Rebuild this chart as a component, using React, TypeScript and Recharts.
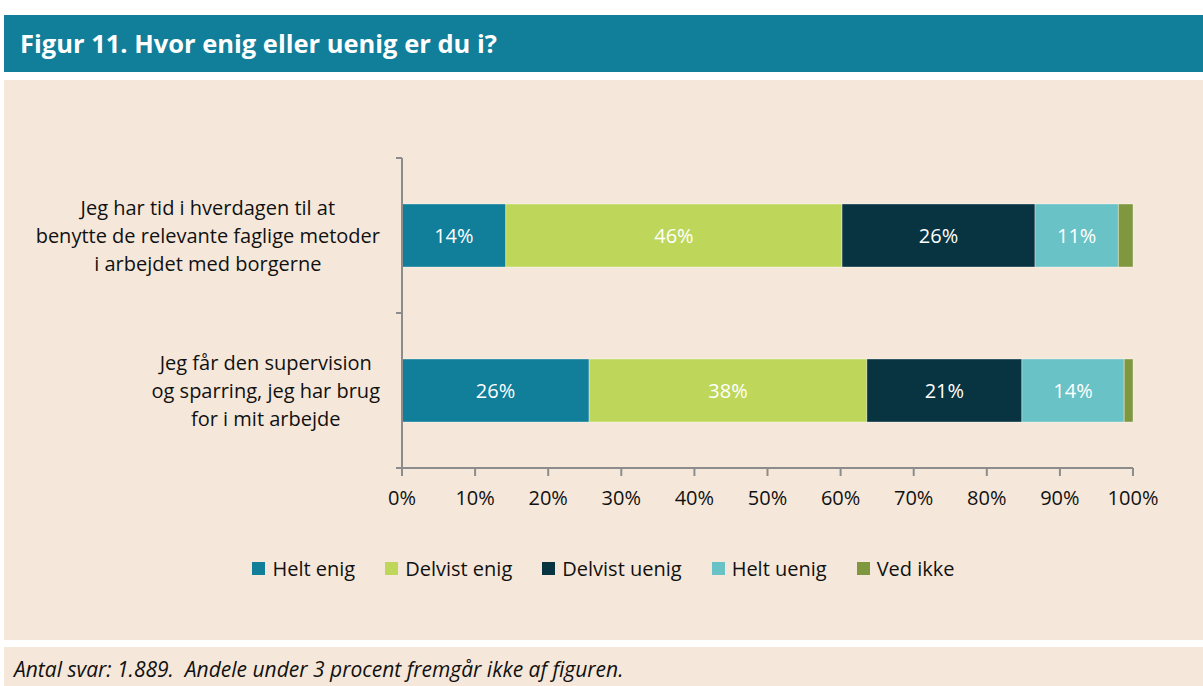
import { BarChart, Bar, XAxis, YAxis, LabelList } from "recharts";

const categories = [
  "Jeg har tid i hverdagen til at\nbenytte de relevante faglige metoder\ni arbejdet med borgerne",
  "Jeg får den supervision\nog sparring, jeg har brug\nfor i mit arbejde",
];

const heltEnig = [14.2, 25.6];
const delvistEnig = [46.0, 38.0];
const delvistUenig = [26.4, 21.2];
const heltUenig = [11.4, 14.0];
const vedIkke = [2.0, 1.2];

const xTicks = [0, 10, 20, 30, 40, 50, 60, 70, 80, 90, 100];

const series = [
  { key: "heltEnig", name: "Helt enig", color: "#117E9A", values: heltEnig },
  { key: "delvistEnig", name: "Delvist enig", color: "#BED75A", values: delvistEnig },
  { key: "delvistUenig", name: "Delvist uenig", color: "#083442", values: delvistUenig },
  { key: "heltUenig", name: "Helt uenig", color: "#69C2C6", values: heltUenig },
  { key: "vedIkke", name: "Ved ikke", color: "#7F983F", values: vedIkke },
];

const data = categories.map((c, i) => {
  const row: Record<string, any> = { name: c };
  series.forEach((s) => (row[s.key] = s.values[i]));
  return row;
});

const FONT = '"Open Sans", sans-serif';
const FS = 20;
const AXIS = "#8C8C8C";
const BG = "#F5E8DA";

const W = 1203;
const H = 600;
const PLOT_TOP = 158;
const PLOT_BOTTOM = 468;
const PLOT_LEFT = 402;
const PLOT_RIGHT = 1133;
const BAND = (PLOT_BOTTOM - PLOT_TOP) / categories.length;

let ctx: CanvasRenderingContext2D | null = null;
function measure(t: string) {
  if (!ctx) ctx = document.createElement("canvas").getContext("2d");
  if (!ctx) return t.length * FS * 0.5;
  ctx.font = `${FS}px "Open Sans"`;
  return ctx.measureText(t).width;
}

// category labels: centred block whose right edge sits 22px left of the axis
function CategoryTick(props: any) {
  const { y, payload, index } = props;
  const lines: string[] = String(payload.value).split("\n");
  const maxW = Math.max(...lines.map(measure));
  const cx = PLOT_LEFT - 22 - maxW / 2;
  const lh = 28;
  const y0 = y - ((lines.length - 1) * lh) / 2;
  return (
    <g>
      <line x1={PLOT_LEFT - 6} x2={PLOT_LEFT} y1={y - BAND / 2} y2={y - BAND / 2} stroke={AXIS} strokeWidth={2} />
      {index === categories.length - 1 && (
        <line x1={PLOT_LEFT - 6} x2={PLOT_LEFT} y1={y + BAND / 2} y2={y + BAND / 2} stroke={AXIS} strokeWidth={2} />
      )}
      <text textAnchor="middle" fontFamily={FONT} fontSize={FS} fill="#111">
        {lines.map((l, i) => (
          <tspan key={i} x={cx} y={y0 + i * lh} dy="0.35em">
            {l}
          </tspan>
        ))}
      </text>
    </g>
  );
}

const pct = (v: any) => (Number(v) >= 3 ? `${Math.round(Number(v))}%` : "");

export default function App() {
  return (
    <div style={{ position: "absolute", left: 0, top: 0, width: W, height: 686, background: "#fff", fontFamily: FONT }}>
      <div
        style={{
          position: "absolute",
          left: 4,
          top: 15,
          width: W - 4,
          height: 57,
          background: "#117E9A",
          color: "#fff",
          fontWeight: 700,
          fontSize: 25.5,
          lineHeight: "56px",
          paddingLeft: 16,
          boxSizing: "border-box",
        }}
      >
        Figur 11. Hvor enig eller uenig er du i?
      </div>
      <div style={{ position: "absolute", left: 4, top: 80, width: W - 4, height: 560, background: BG }} />
      <div
        style={{
          position: "absolute",
          left: 4,
          top: 647,
          width: W - 4,
          height: 39,
          background: BG,
          fontStyle: "italic",
          fontSize: 21,
          color: "#111",
          paddingLeft: 10,
          lineHeight: "44px",
          boxSizing: "border-box",
        }}
      >
        Antal svar: 1.889.&nbsp; Andele under 3 procent fremgår ikke af figuren.
      </div>
      <div style={{ position: "absolute", left: 0, top: 0 }}>
        <BarChart
          width={W}
          height={H}
          data={data}
          layout="vertical"
          margin={{ top: PLOT_TOP, right: W - PLOT_RIGHT, bottom: H - PLOT_BOTTOM - 40, left: 0 }}
        >
          <XAxis
            type="number"
            domain={[0, 100]}
            ticks={xTicks}
            tickFormatter={(v) => `${v}%`}
            height={40}
            axisLine={{ stroke: AXIS, strokeWidth: 2 }}
            tickLine={{ stroke: AXIS, strokeWidth: 2 }}
            tickSize={8}
            tickMargin={15}
            tick={{ fontFamily: FONT, fontSize: FS, fill: "#111" }}
          />
          <YAxis
            type="category"
            dataKey="name"
            width={PLOT_LEFT}
            axisLine={{ stroke: AXIS, strokeWidth: 2 }}
            tickLine={false}
            tick={<CategoryTick />}
            interval={0}
          />
          {series.map((s) => (
            <Bar
              key={s.key}
              dataKey={s.key}
              name={s.name}
              stackId="a"
              fill={s.color}
              barSize={63}
              stroke="rgba(255,255,255,0.35)"
              strokeWidth={1}
              isAnimationActive={false}
            >
              <LabelList
                dataKey={s.key}
                position="center"
                formatter={pct}
                fill="#fff"
                style={{ fontFamily: FONT, fontSize: FS }}
              />
            </Bar>
          ))}
        </BarChart>
      </div>
      <div
        style={{
          position: "absolute",
          left: 4,
          width: W - 4,
          top: 555,
          display: "flex",
          justifyContent: "center",
          fontSize: FS,
          color: "#111",
        }}
      >
        {series.map((s, i) => (
          <div
            key={s.key}
            style={{ display: "flex", alignItems: "center", marginRight: i === series.length - 1 ? 0 : 30 }}
          >
            <span style={{ width: 13, height: 13, background: s.color, marginRight: 7, display: "inline-block" }} />
            <span>{s.name}</span>
          </div>
        ))}
      </div>
    </div>
  );
}
